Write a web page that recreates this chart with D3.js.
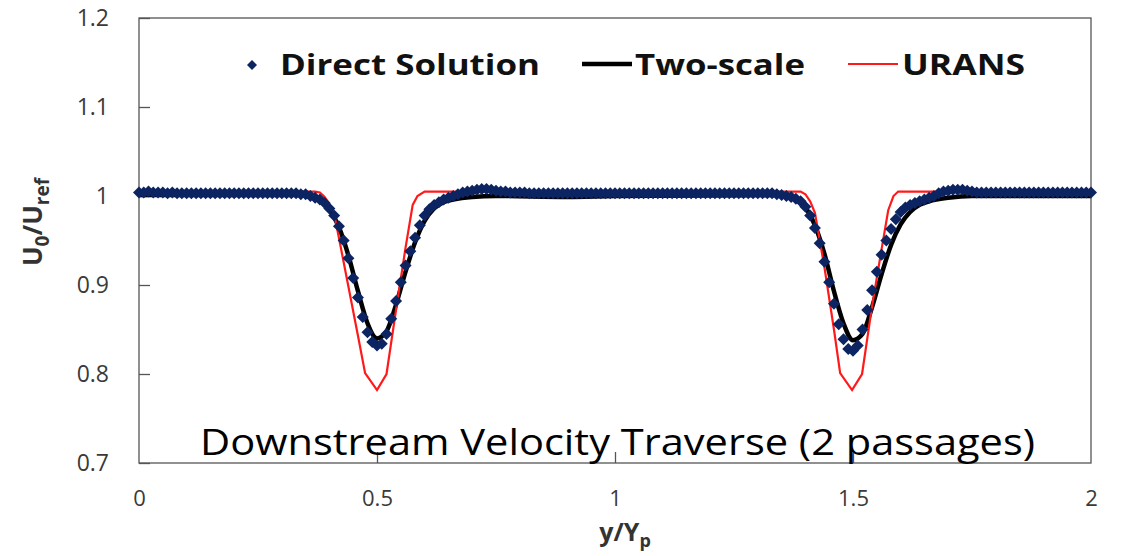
<!DOCTYPE html>
<html><head><meta charset="utf-8">
<script src="https://cdn.jsdelivr.net/npm/d3@7"></script>
<style>html,body{margin:0;padding:0;background:#fff;}svg{display:block;}</style>
</head><body>
<svg id="c" width="1122" height="556"></svg>
<script>
// ---- data ----
const directY = [
1.004,1.004,1.005,1.004,1.004,1.004,1.003,1.004,1.003,1.003,
1.003,1.003,1.003,1.003,1.003,1.003,1.003,1.003,1.003,1.003,
1.003,1.003,1.003,1.003,1.003,1.003,1.003,1.003,1.003,1.003,
1.003,1.003,1.003,1.003,1.002,1.002,1.000,0.998,0.996,0.992,
0.986,0.978,0.966,0.950,0.930,0.908,0.886,0.864,0.847,0.836,
0.832,0.834,0.845,0.862,0.882,0.903,0.922,0.938,0.953,0.967,
0.978,0.985,0.990,0.993,0.996,0.998,1.000,1.002,1.004,1.005,
1.006,1.007,1.008,1.008,1.007,1.006,1.005,1.005,1.004,1.004,
1.004,1.004,1.003,1.003,1.003,1.003,1.003,1.003,1.003,1.003,
1.003,1.003,1.003,1.003,1.003,1.003,1.003,1.003,1.003,1.003,
1.003,1.003,1.003,1.003,1.003,1.003,1.003,1.003,1.003,1.003,
1.003,1.003,1.003,1.003,1.003,1.003,1.003,1.003,1.003,1.003,
1.003,1.003,1.003,1.003,1.003,1.003,1.003,1.003,1.003,1.003,
1.003,1.003,1.003,1.003,1.002,1.001,1.000,0.999,0.997,0.994,
0.988,0.978,0.964,0.947,0.926,0.903,0.879,0.856,0.839,0.828,
0.826,0.832,0.850,0.872,0.894,0.915,0.934,0.950,0.963,0.974,
0.982,0.987,0.990,0.992,0.994,0.996,0.998,1.000,1.003,1.005,
1.006,1.007,1.007,1.007,1.006,1.005,1.004,1.004,1.004,1.004,
1.004,1.004,1.004,1.004,1.004,1.004,1.004,1.004,1.004,1.004,
1.004,1.004,1.004,1.004,1.004,1.004,1.004,1.004,1.004,1.004,
1.004];
const directX = d3.range(directY.length).map(i => i / 100); // sample positions y/Yp

const twoX = [0,0.34,0.36,0.38,0.40,0.42,0.44,0.46,0.48,0.50,0.52,0.54,0.56,0.58,0.60,0.62,0.64,0.66,0.70,0.75,0.90,1.00,1.34,1.36,1.38,1.40,1.42,1.44,1.46,1.48,1.50,1.52,1.54,1.56,1.58,1.60,1.62,1.64,1.66,1.70,1.75,2.0];
const twoY = [1.001,1.001,0.999,0.995,0.985,0.965,0.933,0.893,0.857,0.840,0.848,0.878,0.915,0.948,0.972,0.986,0.993,0.996,0.999,1.000,0.999,1.000,1.001,0.999,0.996,0.987,0.967,0.935,0.893,0.857,0.838,0.845,0.875,0.912,0.945,0.968,0.982,0.990,0.994,0.998,1.000,1.000];

const uransX = [0,0.37,0.38,0.39,0.40,0.41,0.42,0.44,0.46,0.475,0.50,0.52,0.54,0.56,0.575,0.585,0.60,1.39,1.40,1.41,1.42,1.44,1.46,1.473,1.498,1.519,1.54,1.56,1.574,1.585,1.595,2.0];
const uransY = [1.005,1.005,1.004,0.999,0.991,0.980,0.953,0.898,0.843,0.801,0.782,0.800,0.872,0.942,0.990,1.000,1.005,1.005,1.002,0.994,0.981,0.920,0.850,0.801,0.782,0.800,0.876,0.940,0.984,1.000,1.005,1.005];

const xTicks = [0, 0.5, 1, 1.5, 2];
const xTickLabels = ["0", "0.5", "1", "1.5", "2"];
const yTicks = [0.7, 0.8, 0.9, 1.0, 1.1, 1.2];
const yTickLabels = ["0.7", "0.8", "0.9", "1", "1.1", "1.2"];
const seriesNames = ["Direct Solution", "Two-scale", "URANS"];

// ---- drawing ----
const svg = d3.select("#c");
const L = 139, R = 1091, T = 18, B = 463;
const x = d3.scaleLinear().domain([0, 2]).range([L, R]);
const y = d3.scaleLinear().domain([0.7, 1.2]).range([B, T]);
const font = "'Open Sans', 'Liberation Sans', sans-serif";
const axisCol = "#555";
const labCol = "#3a3a3a";

// frame
svg.append("rect").attr("x", L).attr("y", T).attr("width", R - L).attr("height", B - T)
  .attr("fill", "none").attr("stroke", axisCol).attr("stroke-width", 1.3);

// y axis
const yAxis = d3.axisLeft(y).tickValues(yTicks).tickSize(-11).tickPadding(20)
  .tickFormat((d, i) => yTickLabels[i]);
const gy = svg.append("g").attr("transform", `translate(${L},0)`).call(yAxis);
gy.select(".domain").remove();
gy.selectAll(".tick line").attr("stroke", axisCol).attr("stroke-width", 1.3);
gy.selectAll(".tick text").attr("font-family", font).attr("font-size", 23).attr("fill", labCol)
  .attr("x", -30);

// x axis
const xAxis = d3.axisBottom(x).tickValues(xTicks).tickSize(-11).tickPadding(27)
  .tickFormat((d, i) => xTickLabels[i]);
const gx = svg.append("g").attr("transform", `translate(0,${B})`).call(xAxis);
gx.select(".domain").remove();
gx.selectAll(".tick line").attr("stroke", axisCol).attr("stroke-width", 1.3)
  .attr("display", (d) => (d === 0 || d === 2) ? "none" : null);
gx.selectAll(".tick text").attr("font-family", font).attr("font-size", 22).attr("fill", labCol);

// series
const twoData = twoX.map((v, i) => [v, twoY[i]]);
const uransData = uransX.map((v, i) => [v, uransY[i]]);
const directData = directX.map((v, i) => [v, directY[i]]);

svg.append("path").datum(twoData)
  .attr("d", d3.line().x(d => x(d[0])).y(d => y(d[1])).curve(d3.curveMonotoneX))
  .attr("fill", "none").attr("stroke", "#000").attr("stroke-width", 4.5);

svg.append("path").datum(uransData)
  .attr("d", d3.line().x(d => x(d[0])).y(d => y(d[1])))
  .attr("fill", "none").attr("stroke", "#ff1a1a").attr("stroke-width", 2.2);

const dia = (s) => `M0,${-s}L${s},0L0,${s}L${-s},0Z`;
svg.append("g").selectAll("path").data(directData).join("path")
  .attr("transform", d => `translate(${x(d[0])},${y(d[1])})`)
  .attr("d", dia(6)).attr("fill", "#0c2461");

// legend
const lg = svg.append("g");
lg.append("path").attr("transform", "translate(252,65)").attr("d", dia(5)).attr("fill", "#0c2461");
lg.append("text").attr("x", 280).attr("y", 75).text(seriesNames[0])
  .attr("font-family", font).attr("font-weight", "bold").attr("font-size", 29).attr("fill", "#111")
  .attr("textLength", 260).attr("lengthAdjust", "spacingAndGlyphs");
lg.append("line").attr("x1", 582).attr("x2", 632).attr("y1", 64).attr("y2", 64)
  .attr("stroke", "#000").attr("stroke-width", 4.5);
lg.append("text").attr("x", 635).attr("y", 75).text(seriesNames[1])
  .attr("font-family", font).attr("font-weight", "bold").attr("font-size", 29).attr("fill", "#111")
  .attr("textLength", 170).attr("lengthAdjust", "spacingAndGlyphs");
lg.append("line").attr("x1", 848).attr("x2", 898).attr("y1", 64).attr("y2", 64)
  .attr("stroke", "#ff1a1a").attr("stroke-width", 2.2);
lg.append("text").attr("x", 902).attr("y", 75).text(seriesNames[2])
  .attr("font-family", font).attr("font-weight", "bold").attr("font-size", 29).attr("fill", "#111")
  .attr("textLength", 123).attr("lengthAdjust", "spacingAndGlyphs");

// annotation
svg.append("text").attr("x", 200).attr("y", 455).text("Downstream Velocity Traverse (2 passages)")
  .attr("font-family", font).attr("font-size", 36).attr("fill", "#000")
  .attr("textLength", 835).attr("lengthAdjust", "spacingAndGlyphs");

// axis titles
const xt = svg.append("text").attr("x", 625).attr("y", 541).attr("text-anchor", "middle")
  .attr("font-family", font).attr("font-weight", "bold").attr("font-size", 25).attr("fill", "#333");
xt.append("tspan").text("y/Y");
xt.append("tspan").text("p").attr("font-size", 18).attr("dy", 6);

const yt = svg.append("text").attr("transform", "translate(42,222) rotate(-90)").attr("text-anchor", "middle")
  .attr("font-family", font).attr("font-weight", "bold").attr("font-size", 26).attr("fill", "#333");
yt.append("tspan").text("U");
yt.append("tspan").text("0").attr("font-size", 19).attr("dy", 7);
yt.append("tspan").text("/U").attr("dy", -7);
yt.append("tspan").text("ref").attr("font-size", 19).attr("dy", 7);
</script>
</body></html>
